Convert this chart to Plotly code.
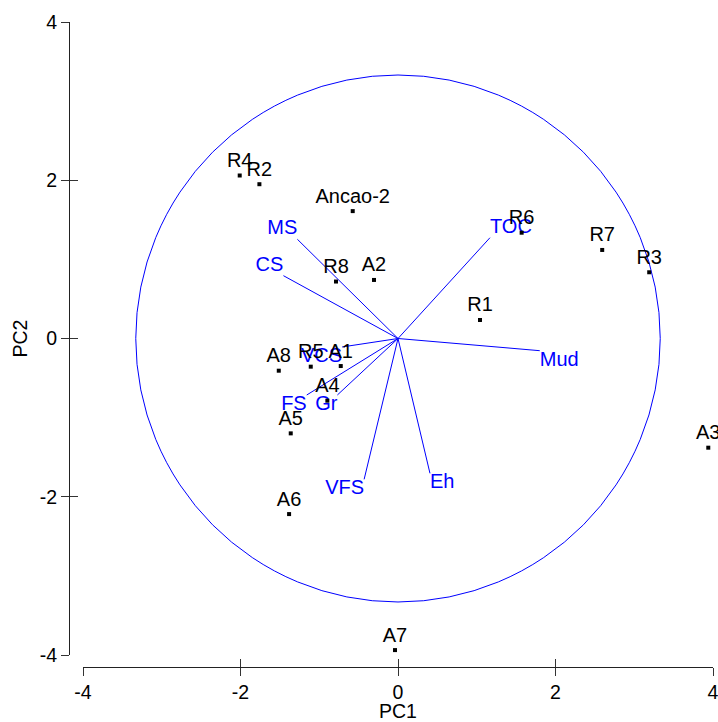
import plotly.graph_objects as go

# Sample scores
site_names = ["R4", "R2", "Ancao-2", "R8", "A2", "R6", "R7", "R3", "R1",
              "A8", "R5", "A1", "A4", "A5", "A6", "A7", "A3"]
site_x = [-2.01, -1.76, -0.575, -0.787, -0.305, 1.57, 2.593, 3.19, 1.041,
          -1.514, -1.108, -0.727, -0.897, -1.362, -1.383, -0.038, 3.94]
site_y = [2.06, 1.95, 1.61, 0.72, 0.74, 1.337, 1.119, 0.837, 0.234,
          -0.407, -0.356, -0.348, -0.786, -1.199, -2.219, -3.938, -1.38]

# Variable loadings (vectors)
var_names = ["MS", "CS", "TOC", "Mud", "VCS", "FS", "Gr", "VFS", "Eh"]
var_x = [-1.278, -1.455, 1.168, 1.80, -0.71, -1.159, -0.770, -0.43, 0.406]
var_y = [1.254, 0.794, 1.274, -0.154, -0.107, -0.714, -0.714, -1.78, -1.704]

circle_r = 3.33
tick_vals = [-4, -2, 0, 2, 4]
tick_text = ["-4", "-2", "0", "2", "4"]

FONT = "Arial, Liberation Sans, sans-serif"
BLUE = "#0000ff"
FS_LABEL = 20
FS_TICK = 19.5

fig = go.Figure()

# vector lines
lx, ly = [], []
for x, y in zip(var_x, var_y):
    lx += [0, x, None]
    ly += [0, y, None]
fig.add_trace(go.Scatter(x=lx, y=ly, mode="lines",
                         line=dict(color=BLUE, width=1), hoverinfo="skip",
                         showlegend=False))

# vector labels
pos = [("top " if y > 0 else "bottom ") + ("right" if x > 0 else "left")
       for x, y in zip(var_x, var_y)]
fig.add_trace(go.Scatter(x=var_x, y=var_y, mode="text", text=var_names,
                         textposition=pos,
                         textfont=dict(color=BLUE, size=FS_LABEL, family=FONT),
                         showlegend=False))

# site points
fig.add_trace(go.Scatter(x=site_x, y=site_y, mode="markers+text",
                         text=site_names, textposition="top center",
                         marker=dict(symbol="square", size=4, color="black"),
                         textfont=dict(color="black", size=FS_LABEL, family=FONT),
                         showlegend=False, cliponaxis=False))

# equilibrium circle
fig.add_shape(type="circle", xref="x", yref="y",
              x0=-circle_r, x1=circle_r, y0=-circle_r, y1=circle_r,
              line=dict(color=BLUE, width=1), layer="below")

W, H = 718, 722
ml, mr, mt, mb = 69, 5, 22, 55
pw = W - ml - mr
ph = H - mt - mb

axis_common = dict(range=[-4, 4], tickvals=tick_vals, ticktext=tick_text,
                   showgrid=False, automargin=False, ticklabeloverflow="allow",
                   zeroline=False, showline=True, linecolor="#222",
                   linewidth=1, ticks="outside", ticklen=8, tickcolor="#333",
                   tickfont=dict(size=FS_TICK, family=FONT, color="black"))

fig.update_layout(
    width=W, height=H,
    margin=dict(l=ml, r=mr, t=mt, b=mb, autoexpand=False),
    plot_bgcolor="white", paper_bgcolor="white",
    xaxis=dict(domain=[14 / pw, 1], anchor="free", position=0,
               title=dict(text="PC1", font=dict(size=FS_TICK, family=FONT, color="black"),
                          standoff=6),
               **axis_common),
    yaxis=dict(domain=[12 / ph, 1], anchor="free", position=0,
               title=dict(text="PC2", font=dict(size=FS_TICK, family=FONT, color="black"),
                          standoff=5),
               **axis_common),
    xaxis2=dict(domain=[14 / pw, 1], anchor="free", position=0, overlaying="x",
                range=[-4, 4], tickvals=tick_vals, showgrid=False, zeroline=False,
                automargin=False,
                showline=False, ticks="inside", ticklen=8, tickcolor="#333",
                showticklabels=False),
    yaxis2=dict(domain=[12 / ph, 1], anchor="free", position=0, overlaying="y",
                range=[-4, 4], tickvals=tick_vals, showgrid=False, zeroline=False,
                automargin=False,
                showline=False, ticks="inside", ticklen=8, tickcolor="#333",
                showticklabels=False),
    showlegend=False,
)
# dummy trace to activate the second axes
fig.add_trace(go.Scatter(x=[None], y=[None], xaxis="x2", yaxis="y2",
                         showlegend=False))

fig.write_html("out.html")
